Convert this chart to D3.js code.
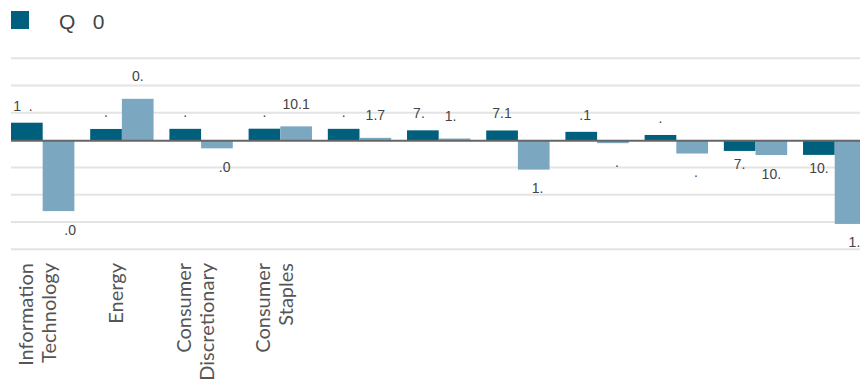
<!DOCTYPE html>
<html>
<head>
<meta charset="utf-8">
<script src="https://cdn.jsdelivr.net/npm/d3@7"></script>
<style>
  html, body { margin: 0; padding: 0; background: #fff; overflow: hidden; }
  svg { display: block; }
  .val { white-space: pre; }
</style>
</head>
<body>
<script>
// ---- data ----
const categories = ["Information Technology", "Energy", "Consumer Discretionary", "Consumer Staples", "", "", "", "", "", "", ""];
const seriesNames = ["Q\u2007 0", ""];
const seriesA = [12.8, 8.2, 8.3, 8.4, 8.3, 7.2, 7.1, 6.1, 3.8, -7.9, -10.8];
const seriesB = [-52.0, 30.3, -6.0, 10.1, 1.7, 1.2, -21.6, -2.2, -9.8, -10.9, -61.4];
const yTicks = [60, 40, 20, 0, -20, -40, -60, -80];
const colors = ["#005f7d", "#7ba7c0"];

// ---- layout ----
const W = 860, H = 380;
const svg = d3.select("body").append("svg").attr("width", W).attr("height", H);

const x = d3.scaleBand().domain(d3.range(categories.length)).range([11, 866.4]).paddingInner(0.2).paddingOuter(0);
const xs = d3.scaleBand().domain([0, 1]).range([0, x.bandwidth()]);
const y = d3.scaleLinear().domain([-80, 60]).range([249.3, 58.3]);

// gridlines
svg.append("g").selectAll("line").data(yTicks.filter(t => t !== 0)).join("line")
  .attr("x1", 11).attr("x2", 866.4)
  .attr("y1", d => y(d)).attr("y2", d => y(d))
  .attr("stroke", "#e4e4e4").attr("stroke-width", 2);

// bars
const series = [seriesA, seriesB];
const fmt = d3.format(".1f");
const shown = v => fmt(v).replace(/[^017.]/g, "\u2007");
const offPos = [12, 17.5], offNeg = [18, 23.5];

series.forEach((vals, s) => {
  const g = svg.append("g");
  g.selectAll("rect").data(vals).join("rect")
    .attr("x", (d, i) => x(i) + xs(s))
    .attr("width", xs.bandwidth())
    .attr("y", d => y(Math.max(0, d)))
    .attr("height", d => Math.abs(y(d) - y(0)))
    .attr("fill", colors[s]);
  g.selectAll("text").data(vals).join("text")
    .attr("class", "val")
    .attr("y", d => d >= 0 ? y(d) - offPos[s] : y(d) + offNeg[s])
    .attr("text-anchor", "start")
    .attr("font-family", "'Liberation Sans', Arial, sans-serif")
    .attr("font-size", 14)
    .attr("fill", "#444")
    .each(function(d, i) {
      const el = d3.select(this).text(shown(d));
      const w = this.getComputedTextLength();
      const cx = x(i) + xs(s) + xs.bandwidth() / 2;
      el.attr("x", cx - w / 2).text(shown(d).replace(/\u2007+$/, ""));
    });
});

// zero line
svg.append("line").attr("x1", 11).attr("x2", 866.4)
  .attr("y1", y(0) + 0.5).attr("y2", y(0) + 0.5)
  .attr("stroke", "#666").attr("stroke-width", 2);

// x labels
const xl = svg.append("g");
categories.forEach((c, i) => {
  if (!c) return;
  const words = c.split(" ");
  const cx = x(i) + x.bandwidth() / 2;
  const t = xl.append("text")
    .attr("transform", `translate(${cx},263) rotate(-90)`)
    .attr("text-anchor", "end")
    .attr("font-family", "Lato, 'Open Sans', sans-serif")
    .attr("font-size", 20)
    .attr("fill", "#555");
  words.forEach((w, k) => {
    t.append("tspan").attr("x", 0)
      .attr("y", (k - (words.length - 1) / 2) * 23 + 1.5)
      .text(w);
  });
});

// legend
const lg = svg.append("g");
seriesNames.forEach((n, s) => {
  if (!n) return;
  lg.append("rect").attr("x", 11).attr("y", 11).attr("width", 18).attr("height", 18).attr("fill", colors[s]);
  lg.append("text").attr("class", "val").attr("x", 59).attr("y", 28.5)
    .attr("font-family", "'Liberation Sans', Arial, sans-serif")
    .attr("font-size", 21).attr("fill", "#444").text(n);
});
</script>
</body>
</html>
